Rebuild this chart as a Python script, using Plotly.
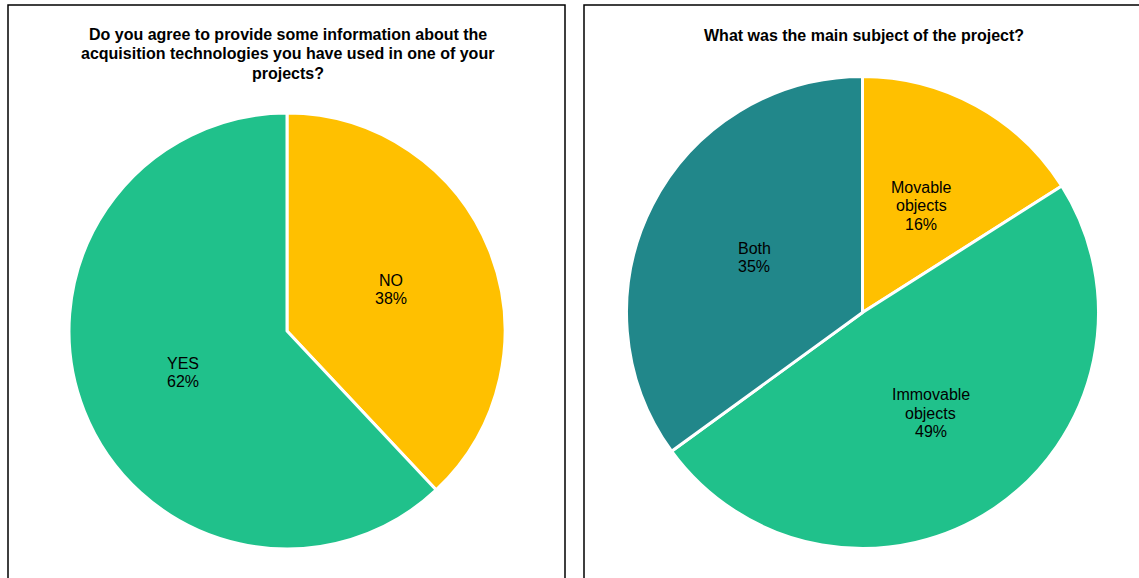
import math
import plotly.graph_objects as go

W, H = 1139, 578

left_title = ["Do you agree to provide some information about the",
              "acquisition technologies you have used in one of your",
              "projects?"]
left_labels = ["NO", "YES"]
left_values = [38, 62]
left_colors = ["#FFC000", "#20C18B"]

right_title = ["What was the main subject of the project?"]
right_labels = ["Movable objects", "Immovable objects", "Both"]
right_label_lines = [["Movable", "objects"], ["Immovable", "objects"], ["Both"]]
right_values = [16, 49, 35]
right_colors = ["#FFC000", "#20C18B", "#21878A"]

FONT = "Liberation Sans, Arial, sans-serif"
LABEL_SIZE = 16
LABEL_LH = 18.5
TITLE_SIZE = 16
TITLE_LH = 19.3


def px_x(x):
    return x / W


def px_y(y_from_top):
    return 1 - y_from_top / H


fig = go.Figure()


def add_pie(labels, label_lines, values, colors, cx, cy, r):
    fig.add_trace(go.Pie(
        labels=labels, values=values, sort=False, direction="clockwise", rotation=0,
        marker=dict(colors=colors, line=dict(color="white", width=3)),
        textinfo="none", hoverinfo="label+percent", showlegend=False,
        domain=dict(x=[px_x(cx - r), px_x(cx + r)], y=[px_y(cy + r), px_y(cy - r)]),
    ))
    total = sum(values)
    cum = 0
    for lines, v in zip(label_lines, values):
        mid = (cum + v / 2) / total * 2 * math.pi
        cum += v
        lx = cx + 0.515 * r * math.sin(mid)
        ly = cy - 0.515 * r * math.cos(mid)
        all_lines = lines + ["%d%%" % round(100 * v / total)]
        n = len(all_lines)
        for i, t in enumerate(all_lines):
            yy = ly + (i - (n - 1) / 2) * LABEL_LH
            fig.add_annotation(text=t, x=px_x(lx), y=px_y(yy), xref="paper", yref="paper",
                               showarrow=False, xanchor="center", yanchor="middle",
                               font=dict(family=FONT, size=LABEL_SIZE, color="#000"))


def add_title(lines, cx, y_first):
    for i, t in enumerate(lines):
        fig.add_annotation(text="<b>" + t + "</b>", x=px_x(cx), y=px_y(y_first + i * TITLE_LH),
                           xref="paper", yref="paper", showarrow=False,
                           xanchor="center", yanchor="middle",
                           font=dict(family=FONT, size=TITLE_SIZE, color="#000"))


add_pie(left_labels, [[l] for l in left_labels], left_values, left_colors, 287, 331, 218)
add_pie(right_labels, right_label_lines, right_values, right_colors, 862.5, 312.5, 236)

add_title(left_title, 287.5, 34.5)
add_title(right_title, 864, 35)

fig.add_shape(type="rect", xref="paper", yref="paper", x0=px_x(8), x1=px_x(565), y0=px_y(590), y1=px_y(5),
              line=dict(color="#000", width=1.5))
fig.add_shape(type="rect", xref="paper", yref="paper", x0=px_x(584), x1=px_x(1150), y0=px_y(590), y1=px_y(5),
              line=dict(color="#000", width=1.5))

fig.update_layout(width=W, height=H, margin=dict(l=0, r=0, t=0, b=0),
                  paper_bgcolor="white", plot_bgcolor="white")

fig.write_html("out.html")
